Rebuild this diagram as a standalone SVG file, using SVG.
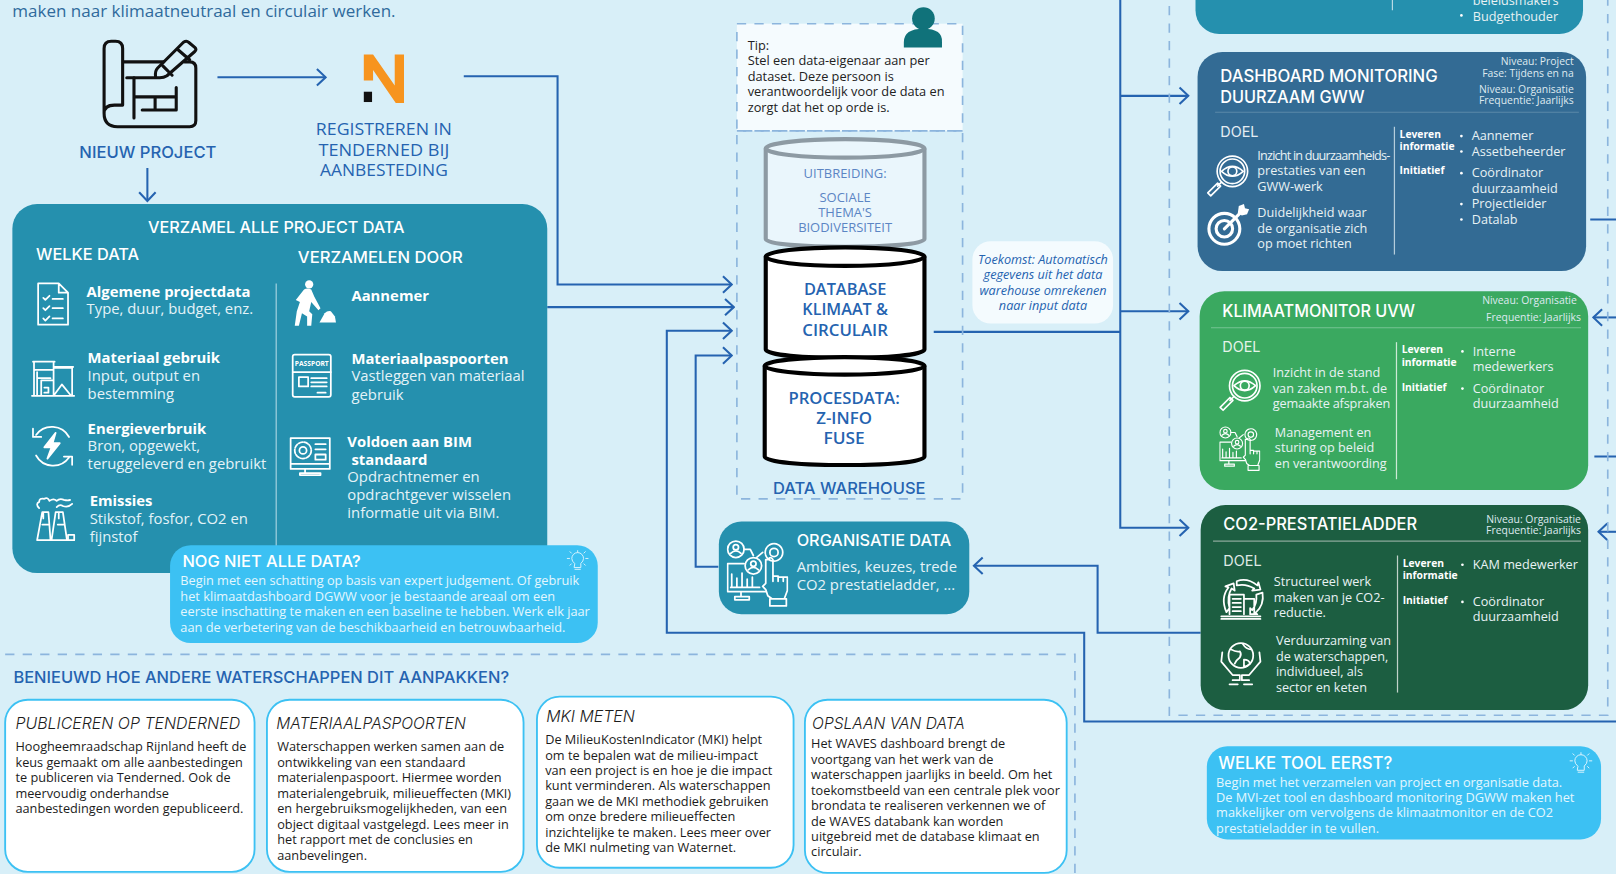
<svg xmlns="http://www.w3.org/2000/svg" width="1616" height="874" viewBox="0 0 1616 874">
<style>
text{font-family:"Open Sans","Noto Sans","Liberation Sans",sans-serif}
.h{font-family:"Inter","Liberation Sans",sans-serif;font-weight:500}
.b{fill:#2563b0}.w{fill:#fff}
.t13{font-size:12.4px}
.s{font-size:14.4px;fill:#e4f3f8}
.bh{font-size:14.4px;font-weight:700;fill:#fff}
.m{font-size:10.1px;fill:#dfeaf0;text-anchor:end}
.lv{font-size:10px;font-weight:700;fill:#fff}
.l{font-size:12.3px;fill:#e8f2f4}
.c{font-size:12.35px;fill:#1c1c1c}
.ct{font-family:"Inter","Liberation Sans",sans-serif;font-size:16px;font-style:italic;fill:#1c1c1c}
.ln{fill:none;stroke:#2563b0;stroke-width:2}
.dash{fill:none;stroke:#8cb5dd;stroke-width:1.6;stroke-dasharray:9 8}
.ic{fill:none;stroke:#fff;stroke-width:1.7;stroke-linecap:round;stroke-linejoin:round}
.card{fill:#fff;stroke:#3cc1f3;stroke-width:1.8}
.cyl{stroke-width:4}
.mid{text-anchor:middle}
</style>
<defs>
<marker id="a" viewBox="0 0 12 20" refX="10.5" refY="10" markerWidth="12" markerHeight="20" markerUnits="userSpaceOnUse" orient="auto"><path d="M2 2L10.5 10L2 18" fill="none" stroke="#2563b0" stroke-width="2"/></marker>
<symbol id="eye" viewBox="0 0 44 44"><g class="ic"><circle cx="27" cy="17" r="15.5"/><circle cx="27" cy="17" r="12.5"/><path d="M16 17q11-10 22 0q-11 10-22 0z"/><circle cx="27" cy="17" r="4.5"/><path d="M16 28l-4 4M12 29l3 3L5 42l-3-3z"/></g></symbol>
<symbol id="audit" viewBox="0 0 60 66"><g class="ic"><circle cx="9" cy="10" r="8"/><circle cx="9" cy="8" r="2.6"/><path d="M4 14q5-5 10 0"/><path d="M17 10h6l3 6M29 18l6-5"/><circle cx="46" cy="13" r="8.5" stroke-dasharray="4 1"/><circle cx="46" cy="13" r="4"/><circle cx="26" cy="26" r="8"/><circle cx="26" cy="24" r="2.6"/><path d="M21 30q5-5 10 0"/><path d="M17 24H1v27h37M5 46V34M10 46V38M15 46V33M20 46V39M25 46V37M4 47h28M14 51v5M8 59h14v-3H8z"/><path d="M38 20v23l-3 3 3 3 2 6 4 3h12l3-8V37h-4v4-4h-5v4-5h-5v5V20q-2-4-5 0zM42 58v7h16v-7z"/></g></symbol>
<symbol id="bulb" viewBox="0 0 24 24"><g fill="none" stroke="#e6f7fe" stroke-width="1" stroke-linecap="round"><path d="M8.500 14.500q-3-2.500-3-5.500a6.500 6.500 0 0 1 13 0q0 3-3 5.500V19h-7zM9 21h6M12 2V0M3 9H0M24 9h-3M5 3 3.500 1.500M19 3l1.500-1.500M5 15l-1.500 1.500M19 15l1.500 1.500"/></g></symbol>
</defs>
<rect width="1616" height="874" fill="#d8eff8"/>
<g transform="scale(1.03061)">
<text x="12" y="16.500" font-size="16.500" fill="#2f6a9c">maken naar klimaatneutraal en circulair werken.</text>

<g id="connectors">
<path class="ln" d="M143 163V195" marker-end="url(#a)"/>
<path class="ln" d="M211 75H316" marker-end="url(#a)"/>
<path class="ln" d="M450 74H541V276H710" marker-end="url(#a)"/>
<path class="ln" d="M531 298H712" marker-end="url(#a)"/>
<path class="ln" d="M1568 700H1052V614H647V321H710" marker-end="url(#a)"/>
<path class="ln" d="M697 550H675V345H710" marker-end="url(#a)"/>
<path class="ln" d="M906 322H1087"/>
<path class="ln" d="M1087 0V512H1153" marker-end="url(#a)"/>
<path class="ln" d="M1087 93H1153" marker-end="url(#a)"/>
<path class="ln" d="M1087 302H1153" marker-end="url(#a)"/>
<path class="ln" d="M1165 614H1065V549H945" marker-end="url(#a)"/>
<path class="ln" d="M1568 308H1546" marker-end="url(#a)"/>
<path class="ln" d="M1568 516H1551" marker-end="url(#a)"/>
<path class="ln" d="M1543 213H1568M1547 443H1568"/>
</g>

<g id="nieuw-project">
<g fill="none" stroke="#111" stroke-width="3" stroke-linecap="round" stroke-linejoin="round">
<path d="M119 102V47q0-7-7-7h-4q-7 0-7 7V110q0 13 13 13H184q6 0 6-6V66q0-6-6-6h-5M101 110q0-8 10-8h8M119 60H159"/>
<path d="M123 75.500H155q4 0 7-2L189 50q2-2 0-4l-6-5q-2-2-5 0L153 66q-3 3-2 9M173 48.500l11 9.500M158 64l9 9"/>
<path d="M130 75.500V114.500M130 94H171M171 85V106.700H138M150.500 94V106.700"/>
</g>
<text class="h b mid" x="143.500" y="153.500" font-size="16" textLength="133" lengthAdjust="spacingAndGlyphs">NIEUW PROJECT</text>
</g>

<g id="tenderned">
<path d="M353 53h9l21 30V53h9v47h-8l-22-32V78h-9z" fill="#f7941e"/>
<rect x="353" y="89" width="8" height="10" fill="#111"/>
<g class="h b mid" font-size="16"><text x="372.500" y="131" textLength="132" lengthAdjust="spacingAndGlyphs">REGISTREREN IN</text><text x="372.500" y="151" textLength="127" lengthAdjust="spacingAndGlyphs">TENDERNED BIJ</text><text x="372.500" y="171" textLength="124" lengthAdjust="spacingAndGlyphs">AANBESTEDING</text></g>
</g>

<g id="project-data">
<rect x="12" y="198" width="519" height="358" rx="24" fill="#2590ae"/>
<text class="h w mid" x="268" y="226" font-size="16" textLength="249" lengthAdjust="spacingAndGlyphs">VERZAMEL ALLE PROJECT DATA</text>
<text class="h w" x="35" y="252" font-size="15" textLength="100" lengthAdjust="spacingAndGlyphs">WELKE DATA</text>
<text class="h w" x="289" y="255" font-size="15" textLength="160" lengthAdjust="spacingAndGlyphs">VERZAMELEN DOOR</text>
<path d="M268 275V530" stroke="#9fd0de" stroke-width="1.200"/>
<text class="bh" x="84" y="288">Algemene projectdata</text><text class="s" x="84" y="305">Type, duur, budget, enz.</text>
<text class="bh" x="85" y="352">Materiaal gebruik</text><text class="s" x="85" y="370">Input, output en</text><text class="s" x="85" y="387">bestemming</text>
<text class="bh" x="85" y="421">Energieverbruik</text><text class="s" x="85" y="438">Bron, opgewekt,</text><text class="s" x="85" y="455">teruggeleverd en gebruikt</text>
<text class="bh" x="87" y="491">Emissies</text><text class="s" x="87" y="508">Stikstof, fosfor, CO2 en</text><text class="s" x="87" y="526">fijnstof</text>
<text class="bh" x="341" y="292">Aannemer</text>
<text class="bh" x="341" y="353">Materiaalpaspoorten</text><text class="s" x="341" y="370">Vastleggen van materiaal</text><text class="s" x="341" y="388">gebruik</text>
<text class="bh" x="337" y="434">Voldoen aan BIM</text><text class="bh" x="341" y="451">standaard</text><text class="s" x="337" y="468">Opdrachtnemer en</text><text class="s" x="337" y="485">opdrachtgever wisselen</text><text class="s" x="337" y="503">informatie uit via BIM.</text>
<g class="ic">
<path d="M37 275h20l9 9v31H37zM57 275v9h9M42 289l2 2 4-4M51 290h10M42 299l2 2 4-4M51 299h10M42 309l2 2 4-4M51 309h10"/>
<path d="M33 351h19v33H33zM52 357h18v27M32 351h21M52 356h19M33 359h19M36 361v23M36 367h13M40 384v-15h12M43 376h4v5h-4M52 384l8-11 9 11M31 384h41"/>
<path d="M67 424a19 19 0 0 0-32-2M32 416v8h8M35 442a19 19 0 0 0 32 2M70 451v-8h-8"/><path d="M54 420l-11 14h7l-4 11 12-15h-7z" fill="#fff"/>
<path d="M36 524l5-27h6l2 27M50 524l4-27h7l4 27zM36 524h36M41 509h6M56 509h6M42 503v-5M57 503v-5M38 493q-4-4 0-6q0-4 5-3q3-2 5 2q4-3 7 0q3-3 7-1q4 1 6 0M55 492q3-3 6-1q5 2 9-2"/><path d="M66 524v-5h6v5" />
</g>
<g fill="#fff"><circle cx="300" cy="276" r="4"/><path d="M295 281q3-2 7 0l3 7 6 11-2 2-7-8-2 9 3 3-1 11h-4v-9l-5-3-3 12h-4l2-14 3-9-4-2z"/><path d="M310 313l5-9q3-3 6-2l4 5 1 6z"/></g>
<g class="ic">
<rect x="284" y="344" width="37" height="41" rx="2"/><path d="M284 361h37M290 366h9v9h-9zM302 367h15M302 371h15M302 375h15M308 381h8"/>
<path d="M282 425h38v30h-38zM282 450h38M296 455v4M291 461h20v-2h-20z"/><circle cx="294" cy="437" r="8" stroke-dasharray="4 1.500"/><circle cx="294" cy="437" r="3.500"/><path d="M306 431h10M306 436h10M306 441h10v5h-10z"/>
</g>
<text x="302.500" y="355" font-size="6.500" font-weight="700" fill="#fff" class="mid">PASSPORT</text>
</g>

<g id="nog-niet">
<rect x="165" y="529" width="415" height="95" rx="20" fill="#3cc1f3"/>
<text class="h w" x="177" y="550" font-size="15.500" textLength="173" lengthAdjust="spacingAndGlyphs">NOG NIET ALLE DATA?</text>
<g class="t13" fill="#e4f7fe"><text x="175" y="568">Begin met een schatting op basis van expert judgement. Of gebruik</text><text x="175" y="583">het klimaatdashboard DGWW voor je bestaande areaal om een</text><text x="175" y="598">eerste inschatting te maken en een baseline te hebben. Werk elk jaar</text><text x="175" y="613">aan de verbetering van de beschikbaarheid en betrouwbaarheid.</text></g>
<use href="#bulb" x="550" y="534" width="21" height="21"/>
</g>

<g id="data-warehouse">
<rect x="715" y="23" width="219" height="104" fill="#f5fbfe"/>
<rect class="dash" x="715" y="23" width="219" height="104"/>
<rect class="dash" x="715" y="127" width="219" height="357"/>
<circle cx="896" cy="18" r="11" fill="#10727a"/><path d="M877 46v-5q0-13 19-13t18 13v5z" fill="#10727a"/>
<g font-size="12.400" fill="#222"><text x="725.500" y="48.500">Tip:</text><text x="725.500" y="63.500">Stel een data-eigenaar aan per</text><text x="725.500" y="78.500">dataset. Deze persoon is</text><text x="725.500" y="93.500">verantwoordelijk voor de data en</text><text x="725.500" y="108.500">zorgt dat het op orde is.</text></g>
<g class="cyl" fill="#eaf6fc" stroke="#8d9aa3"><path d="M743 144v88c0 10 154 10 154 0V144"/><ellipse cx="820" cy="144" rx="77" ry="9"/></g>
<g class="h mid" font-size="12.600" fill="#5b85c4" style="font-weight:400"><text x="820" y="173">UITBREIDING:</text><text x="820" y="196">SOCIALE</text><text x="820" y="211">THEMA'S</text><text x="820" y="225.500">BIODIVERSITEIT</text></g>
<g class="cyl" fill="#fff" stroke="#000"><path d="M743 249v90c0 11 154 11 154 0V249"/><ellipse cx="820" cy="249" rx="77" ry="9"/></g>
<g class="h b mid" font-size="16.500" style="font-weight:600"><text x="820" y="286" textLength="80" lengthAdjust="spacingAndGlyphs">DATABASE</text><text x="820" y="306" textLength="83" lengthAdjust="spacingAndGlyphs">KLIMAAT &amp;</text><text x="820" y="326" textLength="83" lengthAdjust="spacingAndGlyphs">CIRCULAIR</text></g>
<g class="cyl" fill="#fff" stroke="#000"><path d="M742 355v88c0 11 155 11 155 0V355"/><ellipse cx="819.500" cy="355" rx="77.500" ry="8.500"/></g>
<g class="h b mid" font-size="16.500" style="font-weight:600"><text x="819" y="392" textLength="108" lengthAdjust="spacingAndGlyphs">PROCESDATA:</text><text x="819" y="411" textLength="54" lengthAdjust="spacingAndGlyphs">Z-INFO</text><text x="819" y="431" textLength="40" lengthAdjust="spacingAndGlyphs">FUSE</text></g>
<text class="h b mid" x="824" y="479" font-size="15.500" textLength="148" lengthAdjust="spacingAndGlyphs">DATA WAREHOUSE</text>
</g>

<g id="toekomst">
<rect x="943.500" y="234" width="136.500" height="80" rx="18" fill="#f4fbfe"/>
<g class="mid" font-size="12.300" font-style="italic" fill="#2563b0"><text x="1012" y="256">Toekomst: Automatisch</text><text x="1012" y="271">gegevens uit het data</text><text x="1012" y="286">warehouse omrekenen</text><text x="1012" y="301">naar input data</text></g>
</g>

<g id="organisatie-data">
<rect x="697.500" y="506" width="243" height="90" rx="22" fill="#2590ae"/>
<use href="#audit" x="705" y="523" width="60" height="66"/>
<text class="h w" x="773" y="530" font-size="15" textLength="150" lengthAdjust="spacingAndGlyphs">ORGANISATIE DATA</text>
<text class="s" x="773" y="555">Ambities, keuzes, trede</text><text class="s" x="773" y="572">CO2 prestatieladder, ...</text>
</g>

<g id="bottom-section">
<path class="dash" d="M5 635H1043V848"/>
<text class="h b" x="13" y="663" font-size="16" textLength="481" lengthAdjust="spacingAndGlyphs">BENIEUWD HOE ANDERE WATERSCHAPPEN DIT AANPAKKEN?</text>
</g>
<g id="card-tenderned">
<rect class="card" x="5" y="679" width="242" height="167" rx="22"/>
<text class="ct" x="15" y="707" textLength="218" lengthAdjust="spacingAndGlyphs" font-weight="300">PUBLICEREN OP TENDERNED</text>
<g class="c"><text x="15" y="729">Hoogheemraadschap Rijnland heeft de</text><text x="15" y="744">keus gemaakt om alle aanbestedingen</text><text x="15" y="759">te publiceren via Tenderned. Ook de</text><text x="15" y="774">meervoudig onderhandse</text><text x="15" y="789">aanbestedingen worden gepubliceerd.</text></g>
</g>
<g id="card-materiaal">
<rect class="card" x="259" y="679" width="249" height="167" rx="22"/>
<text class="ct" x="268" y="707" textLength="184" lengthAdjust="spacingAndGlyphs" font-weight="300">MATERIAALPASPOORTEN</text>
<g class="c"><text x="269" y="729">Waterschappen werken samen aan de</text><text x="269" y="744">ontwikkeling van een standaard</text><text x="269" y="759">materialenpaspoort. Hiermee worden</text><text x="269" y="774">materialengebruik, milieueffecten (MKI)</text><text x="269" y="789">en hergebruiksmogelijkheden, van een</text><text x="269" y="804">object digitaal vastgelegd. Lees meer in</text><text x="269" y="819">het rapport met de conclusies en</text><text x="269" y="834">aanbevelingen.</text></g>
</g>
<g id="card-mki">
<rect class="card" x="521" y="676" width="249" height="166" rx="22"/>
<text class="ct" x="530" y="701" textLength="86" lengthAdjust="spacingAndGlyphs" font-weight="300">MKI METEN</text>
<g class="c"><text x="529" y="722">De MilieuKostenIndicator (MKI) helpt</text><text x="529" y="737">om te bepalen wat de milieu-impact</text><text x="529" y="752">van een project is en hoe je die impact</text><text x="529" y="767">kunt verminderen. Als waterschappen</text><text x="529" y="782">gaan we de MKI methodiek gebruiken</text><text x="529" y="797">om onze bredere milieueffecten</text><text x="529" y="812">inzichtelijke te maken. Lees meer over</text><text x="529" y="827">de MKI nulmeting van Waternet.</text></g>
</g>
<g id="card-opslaan">
<rect class="card" x="781" y="679" width="254" height="168" rx="22"/>
<text class="ct" x="788" y="707" textLength="148" lengthAdjust="spacingAndGlyphs" font-weight="300">OPSLAAN VAN DATA</text>
<g class="c"><text x="787" y="726">Het WAVES dashboard brengt de</text><text x="787" y="741">voortgang van het werk van de</text><text x="787" y="756">waterschappen jaarlijks in beeld. Om het</text><text x="787" y="771">toekomstbeeld van een centrale plek voor</text><text x="787" y="786">brondata te realiseren verkennen we of</text><text x="787" y="801">de WAVES databank kan worden</text><text x="787" y="816">uitgebreid met de database klimaat en</text><text x="787" y="831">circulair.</text></g>
</g>

<rect class="dash" x="1134.600" y="-20" width="425.400" height="714"/>

<g id="tool-top">
<path d="M1160 -10H1536V10a23 23 0 0 1-23 23H1183a23 23 0 0 1-23-23z" fill="#2590ae"/>
<path d="M1351 0V10" stroke="#cfe6ee" stroke-width="1"/>
<text class="l" x="1429" y="5">beleidsmakers</text><circle cx="1418" cy="15" r="1.300" fill="#fff"/><text class="l" x="1429" y="20">Budgethouder</text>
</g>

<g id="dashboard-monitoring">
<rect x="1162" y="50.500" width="377" height="212.500" rx="24" fill="#336b94"/>
<text class="h w" x="1184" y="80" font-size="16.500" textLength="211" lengthAdjust="spacingAndGlyphs">DASHBOARD MONITORING</text><text class="h w" x="1184" y="100" font-size="16.500" textLength="140" lengthAdjust="spacingAndGlyphs">DUURZAAM GWW</text>
<text class="m" x="1527" y="63">Niveau: Project</text><text class="m" x="1527" y="75">Fase: Tijdens en na</text><text class="m" x="1527" y="90">Niveau: Organisatie</text><text class="m" x="1527" y="101">Frequentie: Jaarlijks</text>
<path d="M1179 109H1532" stroke="#5b88a9" stroke-width="1"/>
<text class="h" x="1184" y="133" font-size="14" fill="#e4edf3" style="font-weight:400">DOEL</text>
<path d="M1353 123V247" stroke="#b5cddc" stroke-width="1.200"/>
<g class="l"><text x="1220" y="155" textLength="129">Inzicht in duurzaamheids-</text><text x="1220" y="170">prestaties van een</text><text x="1220" y="185">GWW-werk</text><text x="1220" y="211">Duidelijkheid waar</text><text x="1220" y="226">de organisatie zich</text><text x="1220" y="241">op moet richten</text></g>
<use href="#eye" x="1170" y="150" width="42" height="42"/>
<g fill="none" stroke="#fff" stroke-width="3" stroke-linecap="round"><circle cx="1188" cy="222" r="15"/><circle cx="1188" cy="222" r="8"/><path d="M1188 222l16-16"/></g><path d="M1201 207l1-7 5-2 1 4 4 1-2 5-5 1z" fill="#fff"/>
<text class="lv" x="1358" y="134">Leveren</text><text class="lv" x="1358" y="146">informatie</text><text class="lv" x="1358" y="169">Initiatief</text>
<g fill="#fff"><circle cx="1418" cy="132" r="1.300"/><circle cx="1418" cy="147" r="1.300"/><circle cx="1418" cy="168" r="1.300"/><circle cx="1418" cy="198" r="1.300"/><circle cx="1418" cy="213" r="1.300"/></g>
<g class="l"><text x="1428" y="136">Aannemer</text><text x="1428" y="151">Assetbeheerder</text><text x="1428" y="172">Coördinator</text><text x="1428" y="187">duurzaamheid</text><text x="1428" y="202">Projectleider</text><text x="1428" y="217">Datalab</text></g>
</g>

<g id="klimaatmonitor">
<rect x="1164" y="282.500" width="377" height="193" rx="24" fill="#3aa960"/>
<text class="h w" x="1186" y="308" font-size="16.500" textLength="187" lengthAdjust="spacingAndGlyphs">KLIMAATMONITOR UVW</text>
<text class="m" x="1530" y="295">Niveau: Organisatie</text><text class="m" x="1534" y="311">Frequentie: Jaarlijks</text>
<path d="M1175 318H1534" stroke="#76c593" stroke-width="1"/>
<text class="h" x="1186" y="342" font-size="14" fill="#e4f3ea" style="font-weight:400">DOEL</text>
<path d="M1355 332V465" stroke="#cde9d6" stroke-width="1.200"/>
<g class="l"><text x="1235" y="366">Inzicht in de stand</text><text x="1235" y="381">van zaken m.b.t. de</text><text x="1235" y="396" textLength="114">gemaakte afspraken</text><text x="1237" y="424">Management en</text><text x="1237" y="439">sturing op beleid</text><text x="1237" y="454">en verantwoording</text></g>
<use href="#eye" x="1182" y="358" width="42" height="42"/>
<use href="#audit" x="1183" y="413" width="40" height="44"/>
<text class="lv" x="1360" y="343">Leveren</text><text class="lv" x="1360" y="355">informatie</text><text class="lv" x="1360" y="379">Initiatief</text>
<g fill="#fff"><circle cx="1419" cy="341" r="1.300"/><circle cx="1419" cy="377" r="1.300"/></g>
<g class="l"><text x="1429" y="345">Interne</text><text x="1429" y="360">medewerkers</text><text x="1429" y="381">Coördinator</text><text x="1429" y="396">duurzaamheid</text></g>
</g>

<g id="co2-prestatieladder">
<rect x="1165" y="490" width="376" height="199" rx="24" fill="#1c5e41"/>
<text class="h w" x="1187" y="514" font-size="16.500" textLength="188" lengthAdjust="spacingAndGlyphs">CO2-PRESTATIELADDER</text>
<text class="m" x="1534" y="507">Niveau: Organisatie</text><text class="m" x="1534" y="518">Frequentie: Jaarlijks</text>
<path d="M1177 525H1534" stroke="#8ba99b" stroke-width="1.200"/>
<text class="h" x="1187" y="549" font-size="14" fill="#dfe9e4" style="font-weight:400">DOEL</text>
<path d="M1356 539V672" stroke="#c0d2c9" stroke-width="1.200"/>
<g class="l"><text x="1236" y="569">Structureel werk</text><text x="1236" y="584">maken van je CO2-</text><text x="1236" y="599">reductie.</text><text x="1238" y="626">Verduurzaming van</text><text x="1238" y="641">de waterschappen,</text><text x="1238" y="656">individueel, als</text><text x="1238" y="671">sector en keten</text></g>
<g class="ic" stroke-width="1.200"><path d="M1185 598h38M1185 600.500h38M1193 596v-19h14v19M1196 581h8M1196 585h8M1196 589h8M1196 593h8M1207 596v-15h10v15M1190 594q-6-14 2-24l-3-1 8-3 1 7-3-2q-5 8-2 19zM1200 564q10-4 20 4l1-3 2 7-8 1 2-2q-8-5-17-3zM1225 575q2 12-7 20l2 1-7 0 0-6 2 2q5-6 4-15z"/><circle cx="1204" cy="636" r="12"/><path d="M1194 630q6 3 9 2 2 3 0 6-4 3-5 6M1206 625q3 5 8 5M1207 640q5 0 6 4-3 3-6 3zM1186 633l-1 9 11 13h7v5h-7M1222 633l1 9-11 13h-7v5h7M1193 664h8M1207 664h8"/></g>
<text class="lv" x="1361" y="550">Leveren</text><text class="lv" x="1361" y="562">informatie</text><text class="lv" x="1361" y="586">Initiatief</text>
<g fill="#fff"><circle cx="1419" cy="548" r="1.300"/><circle cx="1419" cy="584" r="1.300"/></g>
<g class="l"><text x="1429" y="552">KAM medewerker</text><text x="1429" y="588">Coördinator</text><text x="1429" y="603">duurzaamheid</text></g>
</g>

<g id="welke-tool">
<rect x="1171" y="724" width="382.500" height="90.500" rx="20" fill="#3cc1f3"/>
<text class="h w" x="1182" y="746" font-size="16.500" textLength="169" lengthAdjust="spacingAndGlyphs">WELKE TOOL EERST?</text>
<g class="t13" fill="#e4f7fe"><text x="1180" y="764">Begin met het verzamelen van project en organisatie data.</text><text x="1180" y="778.500">De MVI-zet tool en dashboard monitoring DGWW maken het</text><text x="1180" y="793">makkelijker om vervolgens de klimaatmonitor en de CO2</text><text x="1180" y="808">prestatieladder in te vullen.</text></g>
<use href="#bulb" x="1523" y="730" width="22" height="22"/>
</g>
</g>
</svg>
